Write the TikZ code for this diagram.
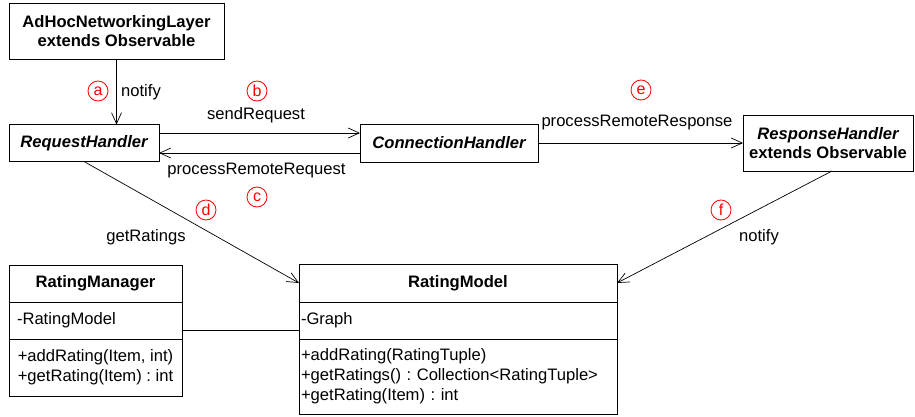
\documentclass[tikz,border=0pt]{standalone}
\usepackage{fontspec}
\setmainfont{Liberation Sans}
\usetikzlibrary{arrows.meta,positioning}
\tikzset{
  txt/.style={font=\fontsize{16.6}{19}\selectfont,inner sep=0pt},
  hbox/.style={draw,line width=0.9pt,inner sep=0pt,outer sep=0pt,align=center,font=\fontsize{16.6}{19}\selectfont\bfseries},
  part/.style={draw,line width=0.9pt,inner ysep=0pt,outer sep=0pt,align=left,anchor=north,font=\fontsize{16.6}{20}\selectfont},
  tag/.style={circle,draw=red,text=red,line width=0.8pt,minimum size=20pt,inner sep=0pt,font=\fontsize{16}{18}\selectfont},
  arr/.style={line width=0.7pt,-{Straight Barb[length=11pt,width=10pt]}},
  assoc/.style={line width=0.7pt},
}
\newcommand{\hnode}{\node[hbox]}
\newcommand{\tagnode}{\node[tag]}
\newcommand{\lblnode}{\node[txt]}

\begin{document}
\frenchspacing
\begin{tikzpicture}[x=1pt,y=-1pt]
  \useasboundingbox (0,0) rectangle (915,417);
  % handlers
  \hnode[minimum width=215pt,minimum height=56pt] (adhoc) at (116.5,31) {AdHocNetworkingLayer\\extends Observable};
  \hnode[minimum width=150pt,minimum height=37pt] (req) at (84,143) {\itshape RequestHandler};
  \hnode[minimum width=178pt,minimum height=38pt] (conn) at (449,143) {\itshape ConnectionHandler};
  \hnode[minimum width=170pt,minimum height=56pt] (resp) at (828,143) {{\itshape ResponseHandler}\\extends Observable};
  % classes
  \hnode[minimum width=173pt,minimum height=37pt] (mgr) at (95.5,283.5) {RatingManager};
  \node[part,below=0pt of mgr,inner xsep=8pt,text width=157pt,minimum height=37pt] (mgrattr) {-RatingModel};
  \node[part,below=0pt of mgrattr,inner xsep=0pt,minimum width=173pt,minimum height=57pt] (mgrops) {+addRating(Item, int)\\+getRating(Item) : int};
  \hnode[minimum width=318pt,minimum height=38pt] (model) at (458,283) {RatingModel};
  \node[part,below=0pt of model,inner xsep=2pt,text width=314pt,minimum height=37pt] (modelattr) {-Graph};
  \node[part,below=0pt of modelattr,inner xsep=2pt,text width=314pt,minimum height=75pt] (modelops) {+addRating(RatingTuple)\\+getRatings() : Collection<RatingTuple>\\+getRating(Item) : int};
  % calls
  \draw[arr] (adhoc.south) -- (adhoc.south |- req.north);
  \draw[arr] ([yshift=10pt]req.east) -- ([yshift=10pt]conn.west);
  \draw[arr] ([yshift=-10pt]conn.west) -- ([yshift=-10pt]req.east);
  \draw[arr] (conn.east) -- (resp.west);
  \draw[arr] (req.south) -- (model.west);
  \draw[arr] ([xshift=4pt]resp.south) -- (model.east);
  \draw[assoc] ([yshift=-9.5pt]mgrattr.east) -- ([yshift=-9.5pt]modelattr.west);
  % labels
  \tagnode (ta) at (98,91) {a};
  \lblnode (la) at (141,92) {notify};
  \tagnode (tb) at (257,91) {b};
  \lblnode (lb) at (256,115) {sendRequest};
  \lblnode (lc) at (256.5,171) {processRemoteRequest};
  \tagnode (tc) at (257,197) {c};
  \tagnode (td) at (206,210) {d};
  \lblnode (ld) at (146,237) {getRatings};
  \tagnode (te) at (641,90) {e};
  \lblnode (le) at (637,123) {processRemoteResponse};
  \tagnode (tf) at (721,210) {f};
  \lblnode (lf) at (759,237) {notify};
\end{tikzpicture}
\end{document}
